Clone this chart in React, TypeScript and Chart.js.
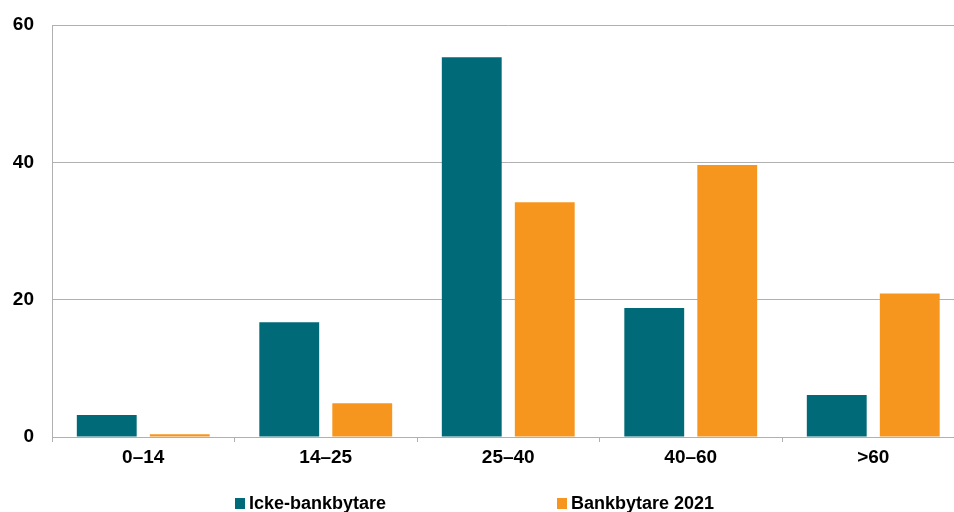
import React, { useEffect, useRef } from "react";
import { Chart, registerables } from "chart.js";

Chart.register(...registerables);

const categories = ["0–14", "14–25", "25–40", "40–60", ">60"];
const ickeBankbytare = [3.2, 16.7, 55.3, 18.8, 6.1];
const bankbytare2021 = [0.4, 4.9, 34.2, 39.6, 20.9];
const seriesNames = ["Icke-bankbytare", "Bankbytare 2021"];
const seriesColors = ["#006a78", "#f7961f"];
const yTicks = [0, 20, 40, 60];

const FONT = "'Liberation Sans', Arial, sans-serif";
const GRID = "#b0b0b0";

export default function App() {
  const ref = useRef<HTMLCanvasElement | null>(null);

  useEffect(() => {
    if (!ref.current) return;
    const chart = new Chart(ref.current, {
      type: "bar",
      data: {
        labels: categories,
        datasets: [
          {
            label: seriesNames[0],
            data: ickeBankbytare,
            backgroundColor: seriesColors[0],
            categoryPercentage: 0.8,
            barPercentage: 0.82,
          },
          {
            label: seriesNames[1],
            data: bankbytare2021,
            backgroundColor: seriesColors[1],
            categoryPercentage: 0.8,
            barPercentage: 0.82,
          },
        ],
      },
      options: {
        animation: false,
        responsive: false,
        devicePixelRatio: 1,
        layout: { padding: { left: 0, top: 25, right: 15.5, bottom: 35 } },
        plugins: {
          legend: { display: false },
          tooltip: { enabled: false },
        },
        scales: {
          x: {
            grid: {
              offset: true,
              drawOnChartArea: false,
              drawTicks: true,
              tickLength: 5,
              color: GRID,
            },
            border: { color: GRID, width: 1 },
            ticks: {
              color: "#000",
              font: { family: FONT, size: 19, weight: "bold" },
              padding: 4,
            },
            afterFit: (s: any) => {
              s.height = 40;
            },
          },
          y: {
            min: 0,
            max: 60,
            afterBuildTicks: (s: any) => {
              s.ticks = yTicks.map((v) => ({ value: v }));
            },
            grid: {
              color: GRID,
              drawTicks: true,
              tickLength: 18,
              tickColor: "rgba(0,0,0,0)",
              lineWidth: 1,
            },
            border: { color: GRID, width: 1 },
            ticks: {
              color: "#000",
              font: { family: FONT, size: 19, weight: "bold" },
              padding: 0,
            },
            afterFit: (s: any) => {
              s.width = 52;
            },
          },
        },
      },
    });
    return () => chart.destroy();
  }, []);

  const legendText: React.CSSProperties = {
    position: "absolute",
    top: 494,
    fontFamily: FONT,
    fontWeight: "bold",
    fontSize: 18,
    lineHeight: "18px",
    color: "#000",
    whiteSpace: "nowrap",
  };
  const sq = (left: number, color: string): React.CSSProperties => ({
    position: "absolute",
    left,
    top: 498,
    width: 10,
    height: 11,
    background: color,
  });

  return (
    <div
      style={{
        position: "fixed",
        left: 0,
        top: 0,
        width: 954,
        height: 512,
        overflow: "hidden",
        background: "#fff",
      }}
    >
      <canvas
        ref={ref}
        width={980}
        height={512}
        style={{ position: "absolute", left: 0, top: 0, width: 980, height: 512 }}
      />
      <div style={sq(235, seriesColors[0])} />
      <div style={{ ...legendText, left: 249 }}>{seriesNames[0]}</div>
      <div style={sq(557, seriesColors[1])} />
      <div style={{ ...legendText, left: 571 }}>{seriesNames[1]}</div>
    </div>
  );
}
